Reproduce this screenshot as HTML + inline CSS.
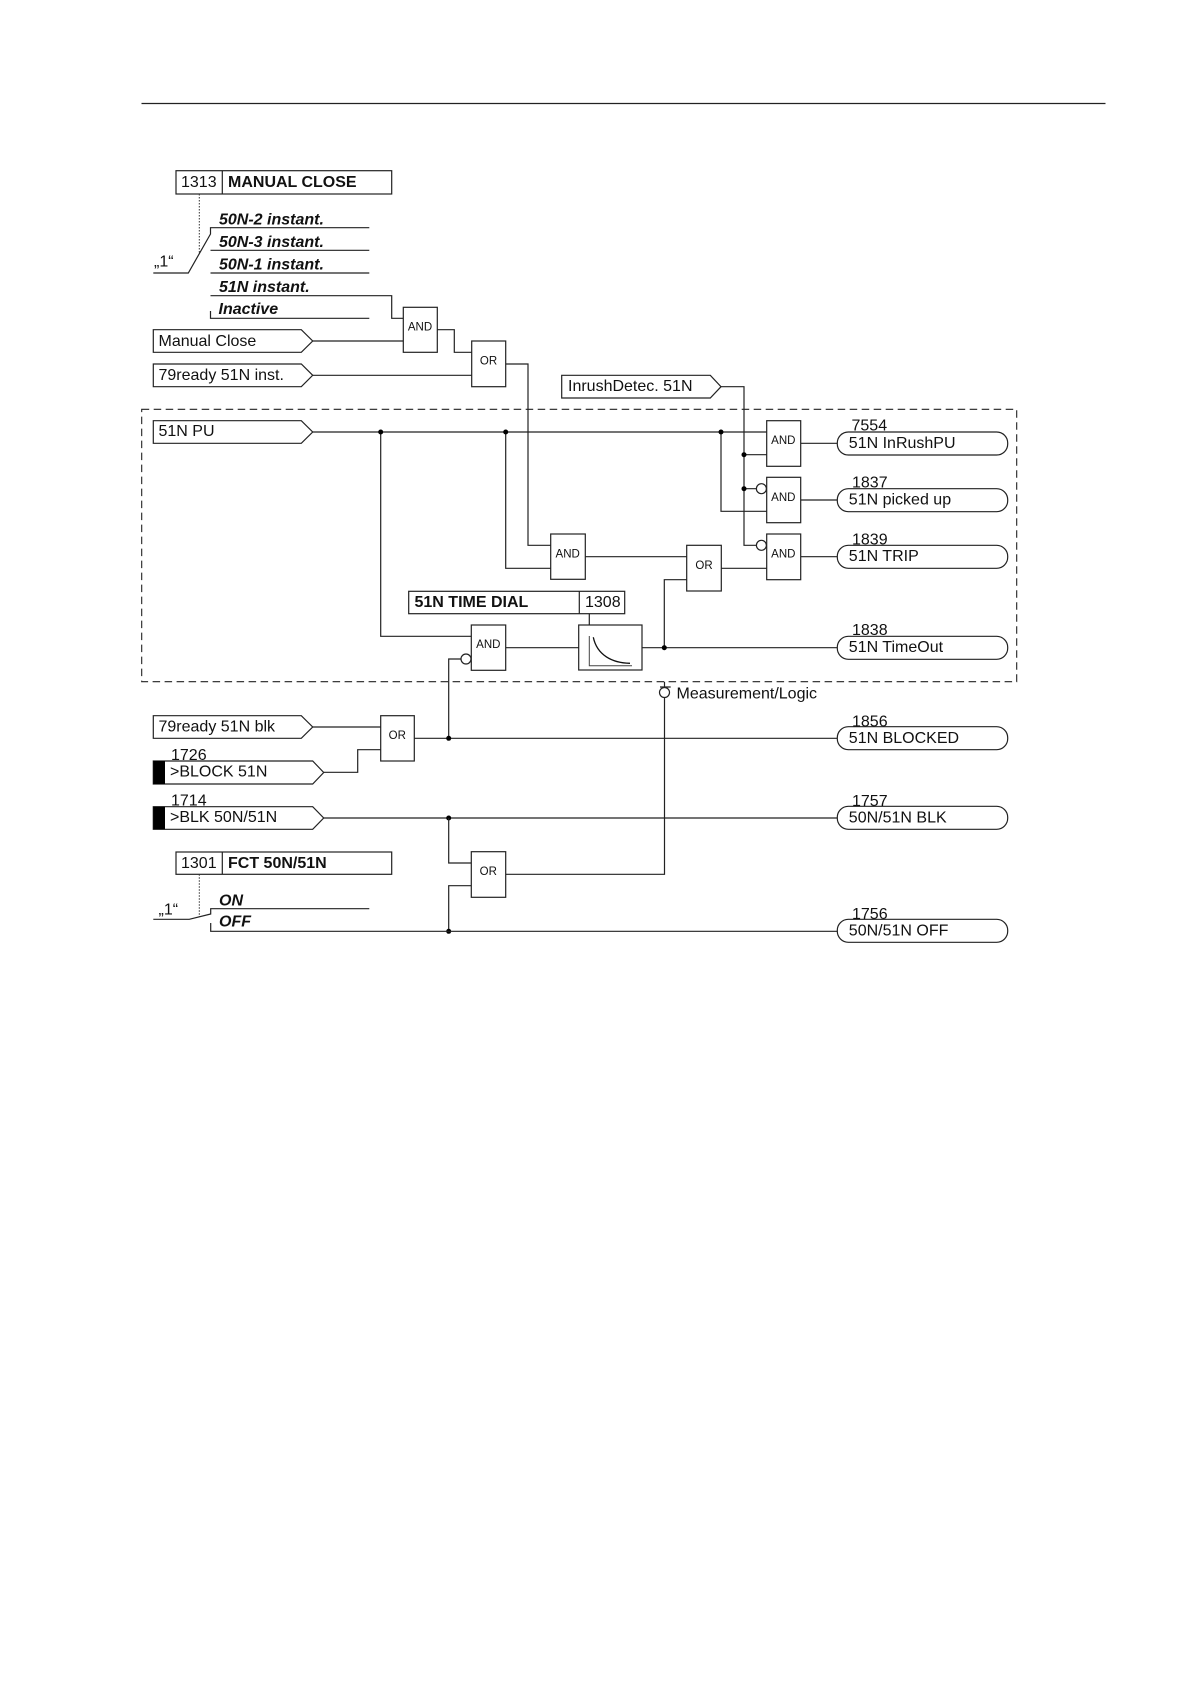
<!DOCTYPE html>
<html>
<head>
<meta charset="utf-8">
<style>
html,body{margin:0;padding:0;background:#fff;}
svg{display:block;}
text{font-family:"Liberation Sans",sans-serif;font-size:16px;fill:#111;}
.b{font-weight:bold;}
.bi{font-weight:bold;font-style:italic;}
.g{font-size:11.5px;text-anchor:middle;}
.l{fill:none;stroke:#222;stroke-width:1.2;}
.w{fill:#fff;stroke:#222;stroke-width:1.2;}
.d{fill:#000;stroke:none;}
#all{filter:blur(0.3px);}
</style>
</head>
<body>
<svg width="1190" height="1684" viewBox="0 0 1190 1684" xmlns="http://www.w3.org/2000/svg">
<rect width="1190" height="1684" fill="#fff"/>
<g id="all">
<path class="l" d="M141.500 103.500H1105.500"/>
<!-- dashed -->
<rect x="141.700" y="409.300" width="875" height="272.400" fill="none" stroke="#222" stroke-width="1.100" stroke-dasharray="7.500 4.500"/>

<!-- 1313 box -->
<rect class="w" x="176" y="170.700" width="215.700" height="23.300"/>
<path class="l" d="M222.300 170.700V194"/>
<text x="181" y="187">1313</text>
<text class="b" x="228" y="187">MANUAL CLOSE</text>
<path d="M199.300 194V253" fill="none" stroke="#333" stroke-width="1" stroke-dasharray="1.500 1.500"/>
<path class="l" d="M153.300 273H188.300L210.500 234V227.700H369.300"/>
<path class="l" d="M210.500 250.300H369.300M210.500 273H369.300M210.500 295.700H391.700V318.300H403.300M210.500 311V318.300H369.300"/>
<text class="bi" x="219" y="224.500">50N-2 instant.</text>
<text class="bi" x="219" y="247">50N-3 instant.</text>
<text class="bi" x="219" y="269.500">50N-1 instant.</text>
<text class="bi" x="219" y="292">51N instant.</text>
<text class="bi" x="218.500" y="314">Inactive</text>
<text x="154" y="266.500">„1“</text>

<!-- Manual close -->
<path class="w" d="M153.300 329.700H301.300L312.700 341L301.300 352.300H153.300Z"/>
<text x="158.500" y="345.800">Manual Close</text>
<path class="l" d="M312.700 341H403.300"/>
<path class="w" d="M153.300 364H301.300L312.700 375.300L301.300 386.700H153.300Z"/>
<text x="158.500" y="379.800">79ready 51N inst.</text>
<path class="l" d="M312.700 375.300H471.700"/>
<rect class="w" x="403.300" y="307.300" width="34" height="45"/>
<text class="g" x="420" y="330.500">AND</text>
<path class="l" d="M437.300 329.700H454.300V352.300H471.700"/>
<rect class="w" x="471.700" y="341" width="34" height="45.700"/>
<text class="g" x="488.500" y="364.300">OR</text>
<path class="l" d="M505.700 364H528V545.300H550.700"/>

<!-- Inrush -->
<path class="w" d="M561.700 375.300H710.300L721 386.700L710.300 398H561.700Z"/>
<text x="568" y="391">InrushDetec. 51N</text>
<path class="l" d="M721 386.700H744V545.300H756.300"/>

<!-- 51N PU -->
<path class="w" d="M153.300 420.700H301.300L312.700 432L301.300 443.300H153.300Z"/>
<text x="158.500" y="436">51N PU</text>
<path class="l" d="M312.700 432H766.700"/>
<path class="l" d="M380.700 432V636.300H471.300"/>
<path class="l" d="M505.700 432V568.300H550.700"/>
<path class="l" d="M721 432V511.300H766.700"/>
<path class="l" d="M744 454.700H766.700M744 488.700H756.300"/>
<circle class="d" cx="380.700" cy="432" r="2.500"/>
<circle class="d" cx="505.700" cy="432" r="2.500"/>
<circle class="d" cx="721" cy="432" r="2.500"/>
<circle class="d" cx="744" cy="454.700" r="2.500"/>
<circle class="d" cx="744" cy="488.700" r="2.500"/>

<!-- Right ANDs -->
<rect class="w" x="766.700" y="420.700" width="34" height="45.600"/>
<text class="g" x="783.300" y="444">AND</text>
<rect class="w" x="766.700" y="477.300" width="34" height="45.400"/>
<text class="g" x="783.300" y="501">AND</text>
<rect class="w" x="766.700" y="534" width="34" height="45.700"/>
<text class="g" x="783.300" y="557.500">AND</text>
<circle class="w" cx="761.400" cy="488.700" r="5"/>
<circle class="w" cx="761.400" cy="545.300" r="5"/>
<path class="l" d="M800.700 443.300H837.300M800.700 500H837.300M800.700 556.700H837.300"/>

<!-- Pills -->
<rect class="w" x="837.300" y="432" width="170.400" height="23" rx="11" ry="11"/>
<text x="851.500" y="430.700">7554</text>
<text x="848.800" y="448">51N InRushPU</text>
<rect class="w" x="837.300" y="488.700" width="170.400" height="23" rx="11" ry="11"/>
<text x="852" y="487.700">1837</text>
<text x="848.800" y="504.700">51N picked up</text>
<rect class="w" x="837.300" y="545.300" width="170.400" height="23" rx="11" ry="11"/>
<text x="852" y="544.300">1839</text>
<text x="848.800" y="561">51N TRIP</text>
<rect class="w" x="837.300" y="636.300" width="170.400" height="23" rx="11" ry="11"/>
<text x="852" y="635">1838</text>
<text x="848.800" y="652">51N TimeOut</text>

<!-- Middle AND/OR -->
<rect class="w" x="550.700" y="534" width="34.600" height="45.300"/>
<text class="g" x="567.700" y="557.700">AND</text>
<path class="l" d="M585.300 556.700H686.700"/>
<rect class="w" x="686.700" y="545.300" width="34.600" height="45.700"/>
<text class="g" x="704" y="569">OR</text>
<path class="l" d="M721.300 568.300H766.700"/>
<path class="l" d="M686.700 579.700H664.300V647.700"/>

<!-- Time dial -->
<rect class="w" x="408.700" y="591.300" width="216" height="22.400"/>
<path class="l" d="M579.300 591.300V613.700M589.300 613.700V625"/>
<text class="b" x="414.500" y="607">51N TIME DIAL</text>
<text x="585" y="607">1308</text>
<rect class="w" x="578.700" y="625" width="63.300" height="45"/>
<path d="M589.300 636V665.700H632" fill="none" stroke="#444" stroke-width="1"/>
<path d="M593.300 637.300C597 655 612 663 630 663.300" fill="none" stroke="#111" stroke-width="1.300"/>

<!-- bottom AND in dashed -->
<rect class="w" x="471.300" y="625" width="34.400" height="45.300"/>
<text class="g" x="488.300" y="648">AND</text>
<circle class="w" cx="466" cy="659" r="5"/>
<path class="l" d="M505.700 647.700H578.700M642 647.700H837.300"/>
<path class="l" d="M461 659H448.700V738.300"/>
<circle class="d" cx="664.300" cy="647.700" r="2.500"/>

<!-- Measurement -->
<path class="l" d="M664.500 681.700V687.300M660 687H670.700"/>
<circle class="w" cx="664.500" cy="692.500" r="5"/>
<path class="l" d="M664.500 697.500V874.300H505.700"/>
<text x="676.500" y="698.300">Measurement/Logic</text>

<!-- 79ready blk -->
<path class="w" d="M153.300 715.700H301.300L312.700 727L301.300 738.300H153.300Z"/>
<text x="158.500" y="731.700">79ready 51N blk</text>
<path class="l" d="M312.700 727H380.700"/>
<rect class="w" x="380.700" y="715.700" width="33.600" height="45.300"/>
<text class="g" x="397.300" y="739">OR</text>
<path class="l" d="M414.300 738.300H837.300"/>
<circle class="d" cx="448.700" cy="738.300" r="2.500"/>

<!-- BLOCK -->
<path class="w" d="M153.300 761H312.700L323.700 772.500L312.700 784H153.300Z"/>
<rect x="153.300" y="761" width="11.700" height="23" fill="#000"/>
<text x="170" y="776.700">&gt;BLOCK 51N</text>
<text x="171" y="760">1726</text>
<path class="l" d="M323.700 772.300H357.700V749.700H380.700"/>

<!-- BLK -->
<path class="w" d="M153.300 806.700H312.700L323.700 818L312.700 829.300H153.300Z"/>
<rect x="153.300" y="806.700" width="11.700" height="22.600" fill="#000"/>
<text x="170" y="822">&gt;BLK 50N/51N</text>
<text x="171" y="805.300">1714</text>
<path class="l" d="M323.700 818H837.300"/>
<circle class="d" cx="448.700" cy="818" r="2.500"/>
<path class="l" d="M448.700 818V863H471.300"/>

<!-- OR low -->
<rect class="w" x="471.300" y="851.700" width="34.400" height="45.600"/>
<text class="g" x="488.300" y="875">OR</text>
<path class="l" d="M471.300 885.700H448.700V931.300"/>
<circle class="d" cx="448.700" cy="931.300" r="2.500"/>

<!-- 1301 -->
<rect class="w" x="176" y="852" width="215.700" height="22.300"/>
<path class="l" d="M222.300 852V874.300"/>
<text x="181" y="868">1301</text>
<text class="b" x="228" y="868">FCT 50N/51N</text>
<path d="M199.300 874.300V916.700" fill="none" stroke="#333" stroke-width="1" stroke-dasharray="1.500 1.500"/>
<path class="l" d="M153.300 919.300H189.300L210.700 914V908.700H369.300"/>
<path class="l" d="M210.700 923V931.300H837.300"/>
<text class="bi" x="219" y="905.300">ON</text>
<text class="bi" x="219" y="926.700">OFF</text>
<text x="158.500" y="914.500">„1“</text>

<!-- Lower pills -->
<rect class="w" x="837.300" y="726.700" width="170.400" height="23" rx="11" ry="11"/>
<text x="852" y="726.700">1856</text>
<text x="848.800" y="743">51N BLOCKED</text>
<rect class="w" x="837.300" y="806.300" width="170.400" height="23" rx="11" ry="11"/>
<text x="852" y="806">1757</text>
<text x="848.800" y="822.700">50N/51N BLK</text>
<rect class="w" x="837.300" y="919.300" width="170.400" height="23" rx="11" ry="11"/>
<text x="852" y="919">1756</text>
<text x="848.800" y="935.700">50N/51N OFF</text>
</g>
</svg>
</body>
</html>
